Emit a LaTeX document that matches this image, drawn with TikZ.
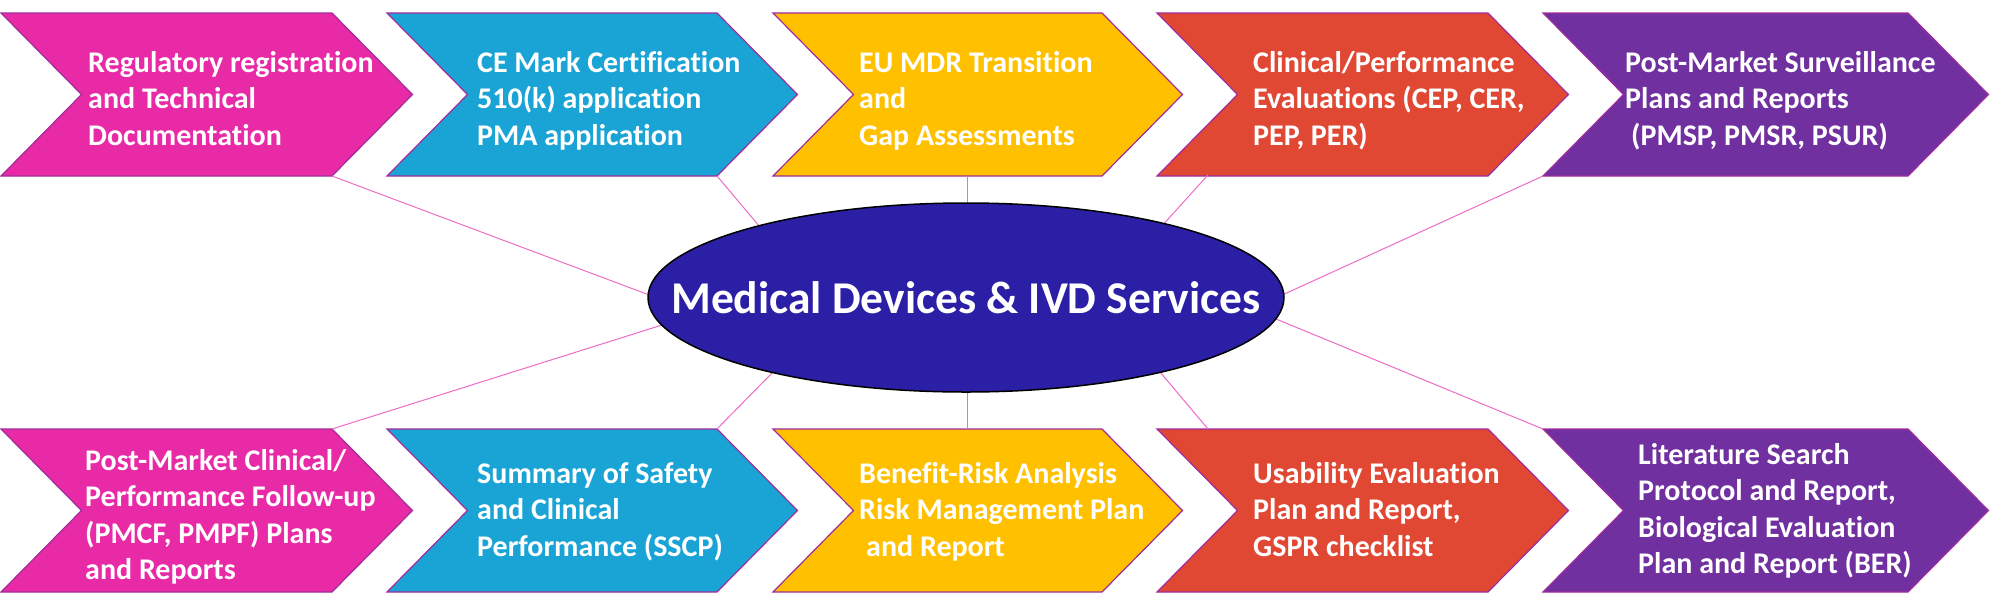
\documentclass[tikz,border=0pt]{standalone}
\usepackage{fontspec}
\setmainfont{Carlito}[Ligatures={NoCommon}]
\usetikzlibrary{shapes.geometric}
\definecolor{cpink}{HTML}{E82AA6}
\definecolor{cblue}{HTML}{1AA4D6}
\definecolor{cyellow}{HTML}{FFC000}
\definecolor{cred}{HTML}{E04834}
\definecolor{cpurple}{HTML}{7030A0}
\definecolor{cellipse}{HTML}{2B1FA6}
\definecolor{coutline}{HTML}{A02C9C}
\definecolor{cline}{HTML}{EE6BC7}
\tikzset{
  chev/.style={draw=coutline, line width=1.2pt, line join=miter},
  conn/.style={draw=cline, line width=1pt},
  chevtext/.style={anchor=base west, inner sep=0pt, align=left, text=white,
    font=\bfseries\fontsize{30}{36.6}\selectfont},
  ellstyle/.style={ellipse, draw=black, line width=1.5pt, fill=cellipse,
    minimum width=636pt, minimum height=189pt, inner sep=0pt},
  titletext/.style={anchor=base, inner sep=0pt, text=white,
    font=\bfseries\fontsize{45.5}{52}\selectfont}
}
\newcommand\mkchev[5]{%
  \draw[chev, fill=#5] (#2,#3) coordinate (#1-nw) -- ++(#4,0) coordinate (#1-ne)
    -- ++(80.5,81.5) coordinate (#1-tip) -- ++(-80.5,81.5) coordinate (#1-se)
    -- ++(-#4,0) coordinate (#1-sw) -- ++(80.5,-81.5) coordinate (#1-notch) -- cycle;}
\begin{document}
\begin{tikzpicture}[x=1pt,y=-1pt]
\useasboundingbox (0,0) rectangle (2002,606);
% top row
\mkchev{c1}{1}{13}{331}{cpink}
\mkchev{c2}{387}{13}{330}{cblue}
\mkchev{c3}{773}{13}{329}{cyellow}
\mkchev{c4}{1157}{13}{331}{cred}
\mkchev{c5}{1543}{13}{365}{cpurple}
% bottom row
\mkchev{c6}{1}{429}{331}{cpink}
\mkchev{c7}{387}{429}{330}{cblue}
\mkchev{c8}{773}{429}{329}{cyellow}
\mkchev{c9}{1157}{429}{331}{cred}
\mkchev{c10}{1543}{429}{365}{cpurple}
% texts (anchor at baseline of last line)
\node[chevtext] (t1) at (88,145.2) {Regulatory registration\\and Technical\\Documentation};
\node[chevtext] (t2) at (477,145.2) {CE Mark Certification\\510(k) application\\PMA application};
\node[chevtext] (t3) at (859,145.2) {EU MDR Transition\\and\\Gap Assessments};
\node[chevtext] (t4) at (1253,145.2) {Clinical/Performance\\Evaluations (CEP, CER,\\PEP, PER)};
\node[chevtext] (t5) at (1625,145.2) {Post-Market Surveillance\\Plans and Reports\\\hspace*{6pt}(PMSP, PMSR, PSUR)};
\node[chevtext] (t6) at (85,579.8) {Post-Market Clinical/\\Performance Follow-up\\(PMCF, PMPF) Plans\\and Reports};
\node[chevtext] (t7) at (477,556.2) {Summary of Safety\\and Clinical\\Performance (SSCP)};
\node[chevtext] (t8) at (859,556.2) {Benefit-Risk Analysis\\Risk Management Plan\\\hspace*{7pt}and Report};
\node[chevtext] (t9) at (1253,556.2) {Usability Evaluation\\Plan and Report,\\GSPR checklist};
\node[chevtext] (t10) at (1638,573.8) {Literature Search\\Protocol and Report,\\Biological Evaluation\\Plan and Report (BER)};
% connector end points
\coordinate (s3) at (967,176);
\coordinate (s4) at (1208,175);
\coordinate (s8) at (967,429);
\coordinate (s9) at (1208,429);
\coordinate (e1) at (652,296);
\coordinate (e2) at (760,227);
\coordinate (e3) at (967,206);
\coordinate (e4) at (1160,228);
\coordinate (e5) at (1280,296);
\coordinate (e6) at (662,325);
\coordinate (e7) at (773,372);
\coordinate (e8) at (967,389);
\coordinate (e9) at (1160,372);
\coordinate (e10) at (1276,319);
% connectors
\draw[conn] (c1-se) -- (e1);
\draw[conn] (c2-se) -- (e2);
\draw[conn] (s3) -- (e3);
\draw[conn] (s4) -- (e4);
\draw[conn] (c5-sw) -- (e5);
\draw[conn] (c6-ne) -- (e6);
\draw[conn] (c7-ne) -- (e7);
\draw[conn] (s8) -- (e8);
\draw[conn] (s9) -- (e9);
\draw[conn] (c10-nw) -- (e10);
% central ellipse
\node[ellstyle] (ell) at (966,297.5) {};
\node[titletext] (title) at (966,313) {Medical Devices \& IVD Services};
\end{tikzpicture}
\end{document}
